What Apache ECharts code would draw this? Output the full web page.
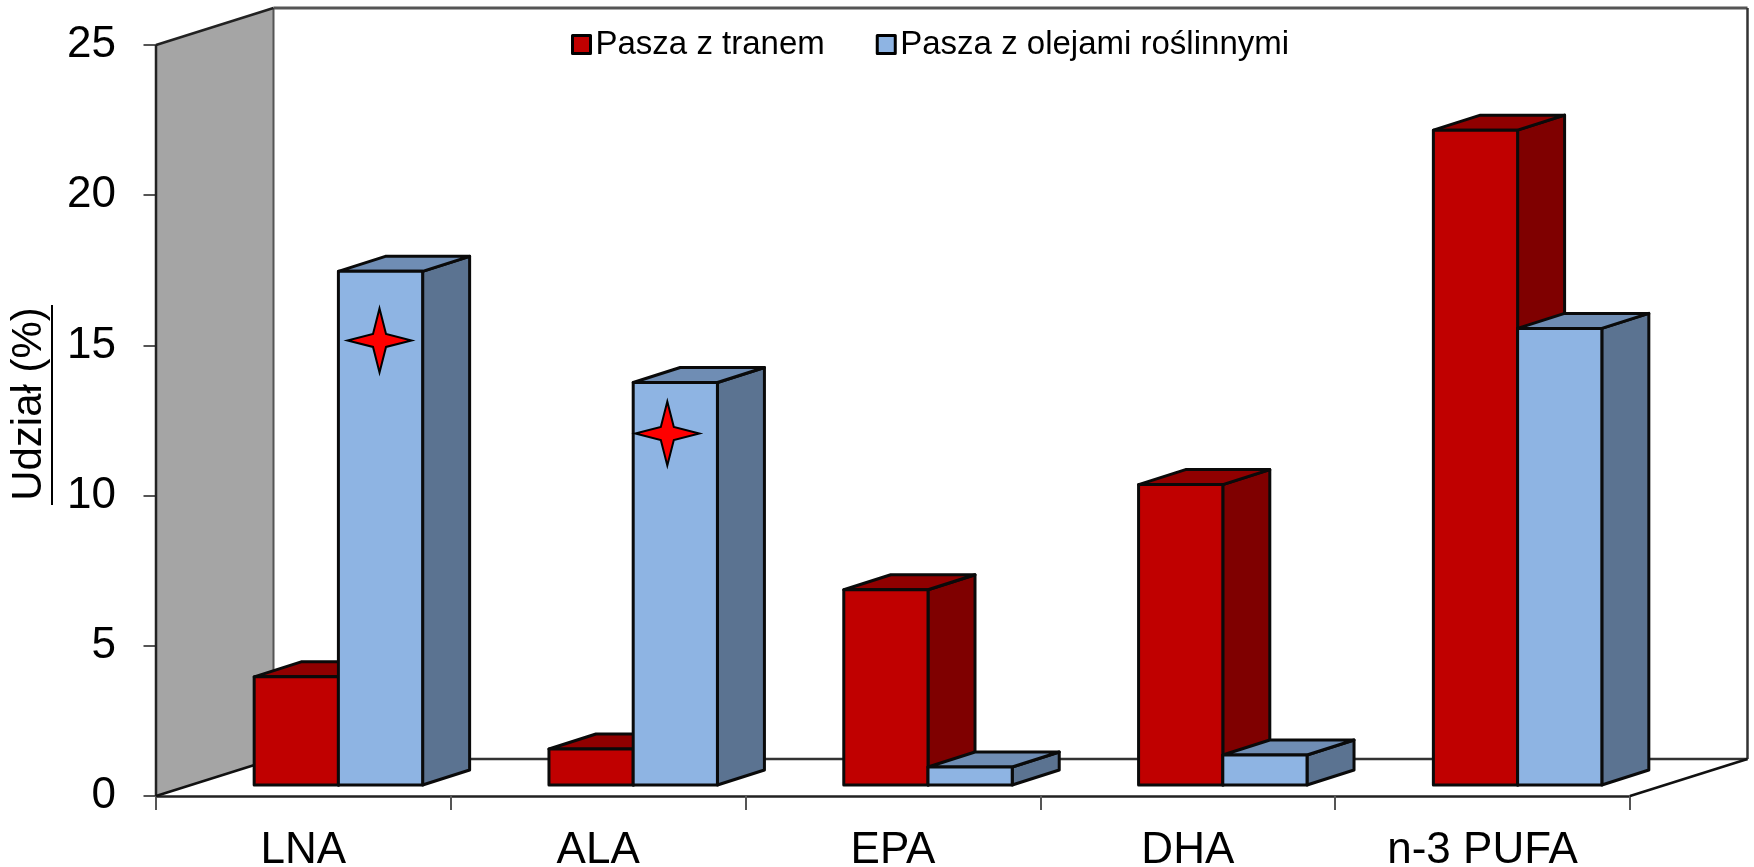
<!DOCTYPE html>
<html>
<head>
<meta charset="utf-8">
<style>
  html, body { margin: 0; padding: 0; background: #fff; }
  #chart { width: 1754px; height: 867px; }
</style>
<script src="https://cdn.jsdelivr.net/npm/echarts@6/dist/echarts.min.js"></script>
</head>
<body>
<div id="chart"></div>
<script>
const categories = ['LNA', 'ALA', 'EPA', 'DHA', 'n-3 PUFA']
const tranValues = [3.6, 1.2, 6.5, 10.0, 21.8]
const olejeValues = [17.1, 13.4, 0.6, 1.0, 15.2]
const starCategories = [0, 1]
const starValues = [14.8, 11.7]

const tranName = 'Pasza z tranem'
const olejeName = 'Pasza z olejami roślinnymi'
const font = '"Liberation Sans", Arial, sans-serif'

// fake 3d: how far the walls and the bars go back
const wallDepth = [117.5, -37]
const barInset = [35, -11]
const barDepth = [47, -15]
const barShare = 1 / 3.5
const starNudge = [-1, -8]
const edge = { stroke: '#0a0a0a', lineWidth: 3, lineJoin: 'round' }

function poly(points, fill, style) {
  return { type: 'polygon', shape: { points }, style: Object.assign({ fill }, style || edge) }
}

function line(x1, y1, x2, y2, stroke, lineWidth) {
  return { type: 'line', shape: { x1, y1, x2, y2 }, style: { stroke, lineWidth } }
}

function renderWalls(params) {
  const { x, y, width, height } = params.coordSys
  const [dx, dy] = wallDepth
  const bottom = y + height
  const right = x + width
  return {
    type: 'group',
    children: [
      poly([[x, bottom], [x, y], [x + dx, y + dy], [x + dx, bottom + dy]], '#a5a5a5', { stroke: 'none' }),
      line(x + dx, y + dy, right + dx, y + dy, '#555', 3),
      line(x + dx, y + dy, x + dx, bottom + dy, '#555', 2),
      line(right + dx, y + dy, right + dx, bottom + dy, '#333', 2.5),
      line(x + dx, bottom + dy, right + dx, bottom + dy, '#333', 2.5),
      line(x, bottom, x, y, '#222', 2.5),
      line(x, y, x + dx, y + dy, '#222', 2.5),
      line(x, bottom, x + dx, bottom + dy, '#111', 2.5),
      line(right, bottom, right + dx, bottom + dy, '#111', 2.5)
    ]
  }
}

function makeBarRenderer(side, colors) {
  return function(params, api) {
    const i = api.value(0)
    const band = api.size([1, 0])[0]
    const w = band * barShare
    const center = api.coord([i, 0])[0] + barInset[0]
    const left = side === 0 ? center - w : center
    const right = left + w
    const base = api.coord([i, 0])[1] + barInset[1]
    const top = api.coord([i, api.value(1)])[1] + barInset[1]
    const [dx, dy] = barDepth
    return {
      type: 'group',
      children: [
        poly([[right, base], [right, top], [right + dx, top + dy], [right + dx, base + dy]], colors.side),
        poly([[left, top], [right, top], [right + dx, top + dy], [left + dx, top + dy]], colors.top),
        poly([[left, base], [left, top], [right, top], [right, base]], colors.front)
      ]
    }
  }
}

function renderStar(params, api) {
  const band = api.size([1, 0])[0]
  const p = api.coord([api.value(0), api.value(1)])
  const cx = p[0] + barInset[0] + band * barShare / 2 + starNudge[params.dataIndex]
  const cy = p[1] + barInset[1]
  const r = 32
  const a = 6.5
  return poly([
    [cx, cy - r], [cx + a, cy - a], [cx + r, cy], [cx + a, cy + a],
    [cx, cy + r], [cx - a, cy + a], [cx - r, cy], [cx - a, cy - a]
  ], '#ff0000', { stroke: '#000', lineWidth: 2, lineJoin: 'miter' })
}

const chart = echarts.init(document.getElementById('chart'))
chart.setOption({
  animation: false,
  backgroundColor: '#fff',
  legend: {
    data: [tranName, olejeName],
    left: 571,
    top: 28,
    padding: 0,
    itemWidth: 18,
    itemHeight: 18,
    itemGap: 51,
    icon: 'rect',
    itemStyle: { borderColor: '#000', borderWidth: 3, borderJoin: 'round' },
    textStyle: { fontFamily: font, fontSize: 33, color: '#000' }
  },
  grid: { left: 156, top: 45, width: 1474, height: 751, outerBoundsMode: 'none' },
  xAxis: {
    type: 'category',
    data: categories,
    axisLine: { show: true, lineStyle: { color: '#222', width: 2.5 } },
    axisTick: { show: true, length: 14, lineStyle: { color: '#555', width: 2 } },
    axisLabel: { fontFamily: font, fontSize: 44, color: '#000', margin: 33 }
  },
  yAxis: {
    type: 'value',
    min: 0,
    max: 25,
    interval: 5,
    splitLine: { show: false },
    axisLine: { show: true, lineStyle: { color: '#222', width: 2 } },
    axisTick: { show: true, length: 12.5, lineStyle: { color: '#555', width: 2 } },
    axisLabel: { fontFamily: font, fontSize: 44, color: '#000', margin: 40 }
  },
  graphic: [
    {
      type: 'text',
      x: 29,
      y: 404,
      rotation: Math.PI / 2,
      style: {
        text: 'Udział (%)',
        font: '42px ' + font,
        fill: '#000',
        textAlign: 'center',
        textVerticalAlign: 'middle'
      }
    },
    { type: 'rect', shape: { x: 51, y: 305, width: 2, height: 200 }, style: { fill: '#000' } }
  ],
  series: [
    { type: 'custom', name: 'walls', data: [[0, 0]], renderItem: renderWalls, silent: true },
    {
      type: 'custom',
      name: tranName,
      itemStyle: { color: '#c00000' },
      encode: { x: 0, y: 1 },
      data: tranValues.map((v, i) => [i, v]),
      renderItem: makeBarRenderer(0, { front: '#c00000', side: '#7f0000', top: '#900000' })
    },
    {
      type: 'custom',
      name: olejeName,
      itemStyle: { color: '#8eb4e3' },
      encode: { x: 0, y: 1 },
      data: olejeValues.map((v, i) => [i, v]),
      renderItem: makeBarRenderer(1, { front: '#8eb4e3', side: '#5b7391', top: '#6f8db4' })
    },
    {
      type: 'custom',
      name: 'stars',
      encode: { x: 0, y: 1 },
      data: starValues.map((v, i) => [starCategories[i], v]),
      renderItem: renderStar,
      silent: true
    }
  ]
})
</script>
</body>
</html>
